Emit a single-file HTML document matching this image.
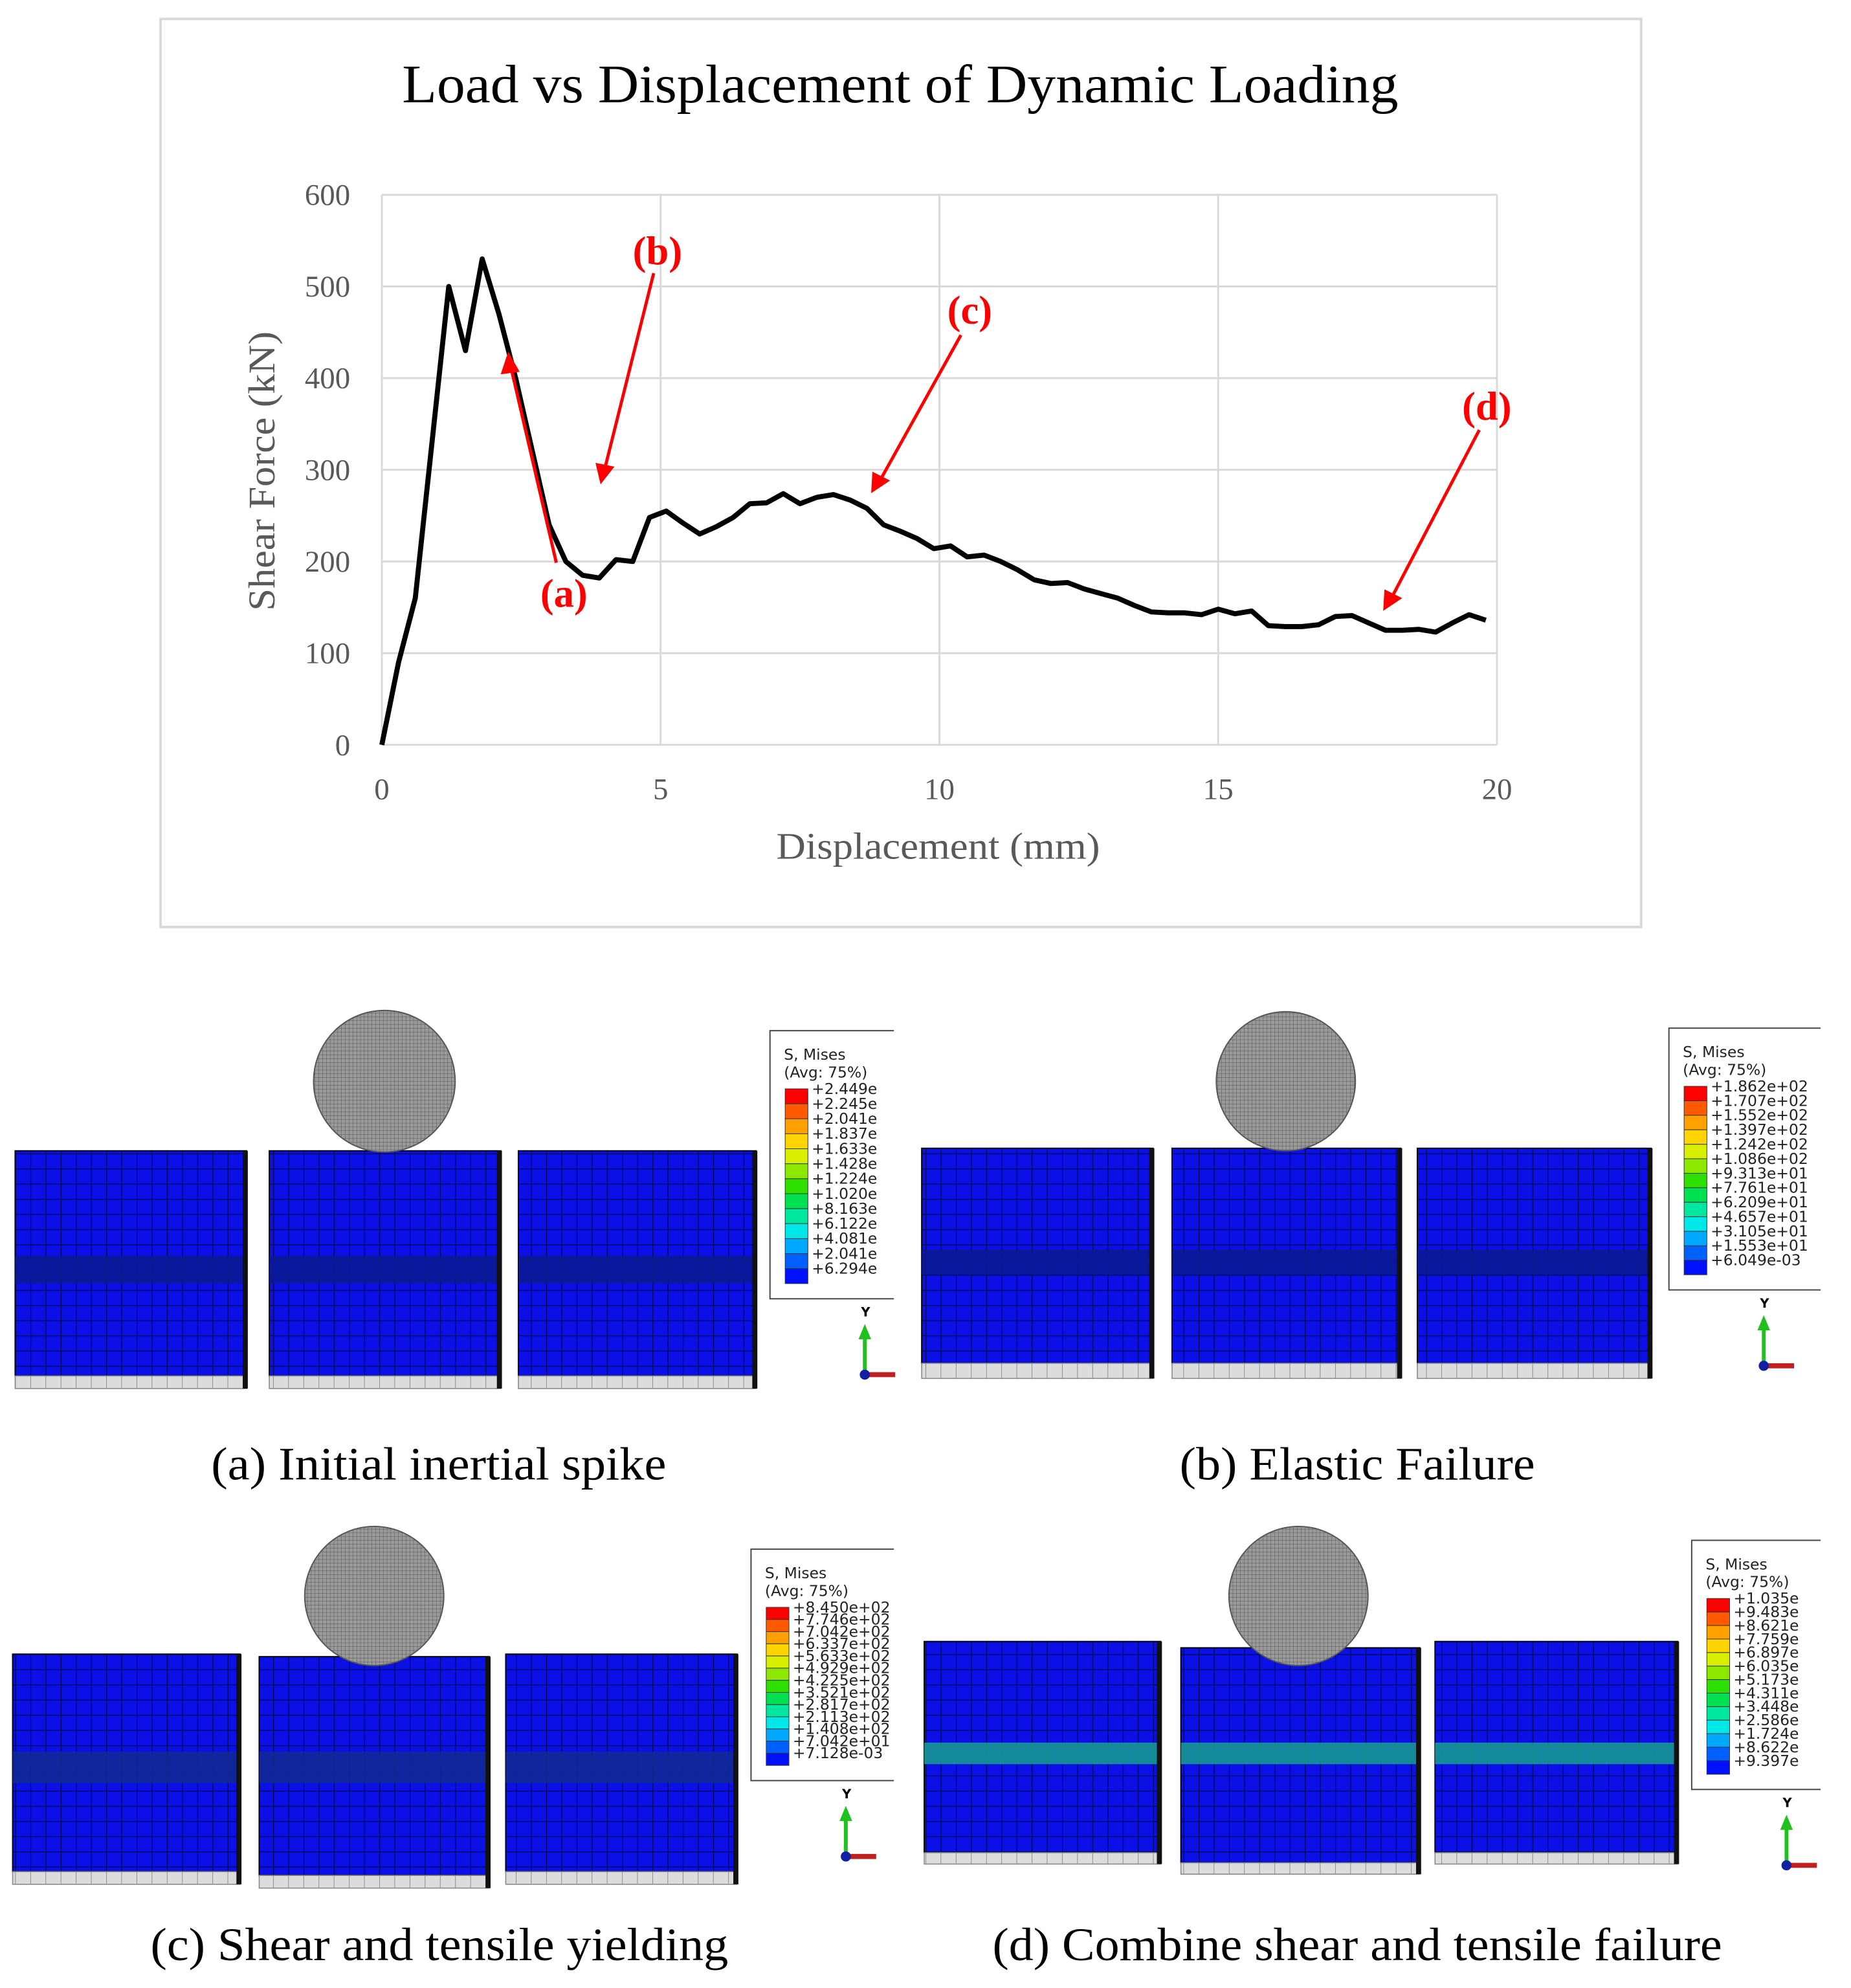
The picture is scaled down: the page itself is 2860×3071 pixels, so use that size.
<!DOCTYPE html>
<html><head><meta charset="utf-8"><style>
html,body{margin:0;padding:0;background:#fff;}
svg{display:block;}
</style></head><body>
<svg id="root" width="2860" height="3071" viewBox="0 0 1464 1572" xmlns="http://www.w3.org/2000/svg">
<defs>
<pattern id="mesh" width="12" height="12" patternUnits="userSpaceOnUse"><rect width="12" height="12" fill="#0a10e6"/><path d="M0 0H12M0 0V12" stroke="#000a50" stroke-width="1.3"/></pattern>
<pattern id="gmesh" width="12" height="12" patternUnits="userSpaceOnUse"><rect width="12" height="12" fill="#dcdcdc"/><path d="M0 0V12" stroke="#777" stroke-width="0.8"/></pattern>
<pattern id="smesh" width="3" height="3" patternUnits="userSpaceOnUse"><rect width="3" height="3" fill="#9a9a9a"/><path d="M0 0H3M0 0V3" stroke="#555" stroke-width="0.5"/></pattern>
</defs>
<rect x="127" y="15" width="1171" height="718" fill="#fff" stroke="#d9d9d9" stroke-width="2"/>
<text x="318" y="81" textLength="788" lengthAdjust="spacingAndGlyphs" font-family="Liberation Serif, serif" font-size="43" fill="#000">Load vs Displacement of Dynamic Loading</text>
<g id="grid"></g>
<g id="ticks" font-family="Liberation Serif, serif" font-size="24" fill="#595959"></g>
<text x="614" y="679" textLength="256" lengthAdjust="spacingAndGlyphs" font-family="Liberation Serif, serif" font-size="30" fill="#595959">Displacement (mm)</text>
<text transform="translate(217,483) rotate(-90)" textLength="221" lengthAdjust="spacingAndGlyphs" font-family="Liberation Serif, serif" font-size="30" fill="#595959">Shear Force (kN)</text>
<polyline id="curve" fill="none" stroke="#000" stroke-width="4" stroke-linejoin="round"/>
<g stroke="#f00" stroke-width="2.5" fill="#f00" font-family="Liberation Serif, serif" font-weight="bold" font-size="32">
<line x1="440" y1="445" x2="404" y2="290"/><polygon points="402,278 396,296 411,294" stroke="none"/>
<text x="446" y="480" text-anchor="middle" stroke="none">(a)</text>
<line x1="517" y1="216" x2="478" y2="372"/><polygon points="475,383 471,366 486,369" stroke="none"/>
<text x="520" y="209" text-anchor="middle" stroke="none">(b)</text>
<line x1="760" y1="265" x2="696" y2="380"/><polygon points="689,390 690,373 704,380" stroke="none"/>
<text x="767" y="256" text-anchor="middle" stroke="none">(c)</text>
<line x1="1170" y1="340" x2="1101" y2="472"/><polygon points="1094,483 1095,466 1109,473" stroke="none"/>
<text x="1176" y="332" text-anchor="middle" stroke="none">(d)</text>
</g>
<g id="panels"></g>
</svg>
<script>
const xTicks=[0,5,10,15,20];
const yTicks=[0,100,200,300,400,500,600];
const dispMm=[0,0.3,0.6,1.2,1.5,1.8,2.1,2.4,2.7,3.0,3.3,3.6,3.9,4.2,4.5,4.8,5.1,5.4,5.7,6.0,6.3,6.6,6.9,7.2,7.5,7.8,8.1,8.4,8.7,9.0,9.3,9.6,9.9,10.2,10.5,10.8,11.1,11.4,11.7,12.0,12.3,12.6,12.9,13.2,13.5,13.8,14.1,14.4,14.7,15.0,15.3,15.6,15.9,16.2,16.5,16.8,17.1,17.4,17.7,18.0,18.3,18.6,18.9,19.2,19.5,19.8];
const forceKN=[0,90,160,500,430,530,470,400,320,240,200,185,182,202,200,248,255,242,230,238,248,263,264,274,263,270,273,267,258,240,233,225,214,217,205,207,200,191,180,176,177,170,165,160,152,145,144,144,142,148,143,146,130,129,129,131,140,141,133,125,125,126,123,133,142,136];
const NS="http://www.w3.org/2000/svg";
const X=v=>302+(v-0)/20*(1184-302);
const Y=v=>589-(v/600)*(589-154);
const grid=document.getElementById('grid'),ticks=document.getElementById('ticks');
function mk(t,a,p){const e=document.createElementNS(NS,t);for(const k in a)e.setAttribute(k,a[k]);p.appendChild(e);return e;}
yTicks.forEach(v=>{
  const l=mk('line',{x1:X(0),x2:X(20),y1:Y(v),y2:Y(v),stroke:'#d9d9d9','stroke-width':1.5},grid);
  
  
  const t=mk('text',{x:277,y:Y(v)+8,'text-anchor':'end'},ticks);t.textContent=v;
  
  
});
xTicks.forEach(v=>{
  const l=mk('line',{x1:X(v),x2:X(v),y1:Y(0),y2:Y(600),stroke:'#d9d9d9','stroke-width':1.5},grid);
  
  
  const t=mk('text',{x:X(v),y:632,'text-anchor':'middle'},ticks);t.textContent=v;
  
  
});
document.getElementById('curve').setAttribute('points',dispMm.map((d,i)=>X(d)+','+Y(forceKN[i])).join(' '));

const legendColors=['#ff0000','#ff5a00','#ffa000','#ffd500','#d8f000','#8ce800','#2ee000','#00e050','#00e8a0','#00e8e8','#00a8ff','#0060ff','#0010ff'];
const legendA=['+2.449e','+2.245e','+2.041e','+1.837e','+1.633e','+1.428e','+1.224e','+1.020e','+8.163e','+6.122e','+4.081e','+2.041e','+6.294e'];
const legendB=['+1.862e+02','+1.707e+02','+1.552e+02','+1.397e+02','+1.242e+02','+1.086e+02','+9.313e+01','+7.761e+01','+6.209e+01','+4.657e+01','+3.105e+01','+1.553e+01','+6.049e-03'];
const legendC=['+8.450e+02','+7.746e+02','+7.042e+02','+6.337e+02','+5.633e+02','+4.929e+02','+4.225e+02','+3.521e+02','+2.817e+02','+2.113e+02','+1.408e+02','+7.042e+01','+7.128e-03'];
const legendD=['+1.035e','+9.483e','+8.621e','+7.759e','+6.897e','+6.035e','+5.173e','+4.311e','+3.448e','+2.586e','+1.724e','+8.622e','+9.397e'];
const panels=[
 {name:'panel-a',blocks:[[12,195,910,1088],[213,396,910,1088],[410,598,910,1088]],gray:10,sphere:[304,855,56],band:[993,1015,'#0a1a90'],leg:[609,815,707,1027],labels:legendA,cap:'(a)  Initial inertial spike',cx:167,cw:360,cy:1170},
 {name:'panel-b',blocks:[[729,912,908,1078],[927,1108,908,1078],[1121,1306,908,1078]],gray:12,sphere:[1017,855,55],band:[988,1008,'#0a1a90'],leg:[1320,813,1440,1020],labels:legendB,cap:'(b)  Elastic Failure',cx:933,cw:281,cy:1170},
 {name:'panel-c',blocks:[[10,190,1308,1480],[205,387,1310,1483],[400,583,1308,1480]],gray:10,sphere:[296,1262,55],band:[1385,1410,'#102a90'],leg:[594,1225,707,1408],labels:legendC,cap:'(c)  Shear and tensile yielding',cx:119,cw:457,cy:1550},
 {name:'panel-d',blocks:[[731,918,1298,1465],[934,1123,1303,1473],[1135,1327,1298,1465]],gray:9,sphere:[1027,1262,55],band:[1378,1395,'#18a090'],leg:[1338,1218,1440,1415],labels:legendD,cap:'(d)  Combine shear and tensile failure',cx:785,cw:577,cy:1550}
];
const P=document.getElementById('panels');
panels.forEach(p=>{
  const g=mk('g',{},P);
  
  
  p.blocks.forEach(b=>{
    const r=mk('rect',{x:b[0],y:b[2],width:b[1]-b[0],height:b[3]-b[2],fill:'url(#mesh)',stroke:'#000','stroke-width':1},g);
    
    
    mk('rect',{x:b[0],y:p.band[0],width:b[1]-b[0],height:p.band[1]-p.band[0],fill:p.band[2],opacity:0.85},g);
    const s=mk('rect',{x:b[0],y:b[3],width:b[1]-b[0],height:p.gray,fill:'url(#gmesh)',stroke:'#888','stroke-width':0.8},g);
    
    
    mk('rect',{x:b[1]-3,y:b[2],width:4,height:b[3]-b[2]+p.gray,fill:'#111'},g);
  });
  const c=mk('circle',{cx:p.sphere[0],cy:p.sphere[1],r:p.sphere[2],fill:'url(#smesh)',stroke:'#555','stroke-width':1},g);
  
  
  const L=p.leg;
  const lb=mk('rect',{x:L[0],y:L[1],width:L[2]-L[0]+20,height:L[3]-L[1],fill:'#fff',stroke:'#444','stroke-width':1},g);
  
  
  const t1=mk('text',{x:L[0]+11,y:L[1]+23,'font-family':'DejaVu Sans, sans-serif','font-size':12,fill:'#222'},g);t1.textContent='S, Mises';
  const t2=mk('text',{x:L[0]+11,y:L[1]+37,'font-family':'DejaVu Sans, sans-serif','font-size':12,fill:'#222'},g);t2.textContent='(Avg: 75%)';
  const top=L[1]+46,h=(L[3]-L[1]-58)/13;
  legendColors.forEach((col,i)=>{
    mk('rect',{x:L[0]+12,y:top+i*h,width:18,height:h,fill:col,stroke:'#333','stroke-width':0.5},g);
    const lt=mk('text',{x:L[0]+33,y:top+i*h+4,'font-family':'DejaVu Sans, sans-serif','font-size':12,fill:'#222'},g);lt.textContent=p.labels[i];
  });
  mk('rect',{x:L[2],y:L[1]-2,width:30,height:L[3]-L[1]+4,fill:'#fff'},g);
  const ax=L[0]+75,ay=L[3]+60;
  mk('line',{x1:ax,y1:ay,x2:ax,y2:ay-32,stroke:'#20c020','stroke-width':3},g);
  mk('polygon',{points:`${ax-5},${ay-28} ${ax+5},${ay-28} ${ax},${ay-40}`,fill:'#20c020'},g);
  mk('line',{x1:ax,y1:ay,x2:ax+24,y2:ay,stroke:'#c02020','stroke-width':4},g);
  mk('circle',{cx:ax,cy:ay,r:4,fill:'#1020a0'},g);
  const yl=mk('text',{x:ax-3,y:ay-46,'font-family':'DejaVu Sans, sans-serif','font-size':10,'font-weight':'bold'},g);yl.textContent='Y';
  const cap=mk('text',{x:p.cx,y:p.cy,textLength:p.cw,lengthAdjust:'spacingAndGlyphs','font-family':'Liberation Serif, serif','font-size':37,fill:'#000'},g);
  cap.textContent=p.cap;
  
  
});
</script>
</body></html>
